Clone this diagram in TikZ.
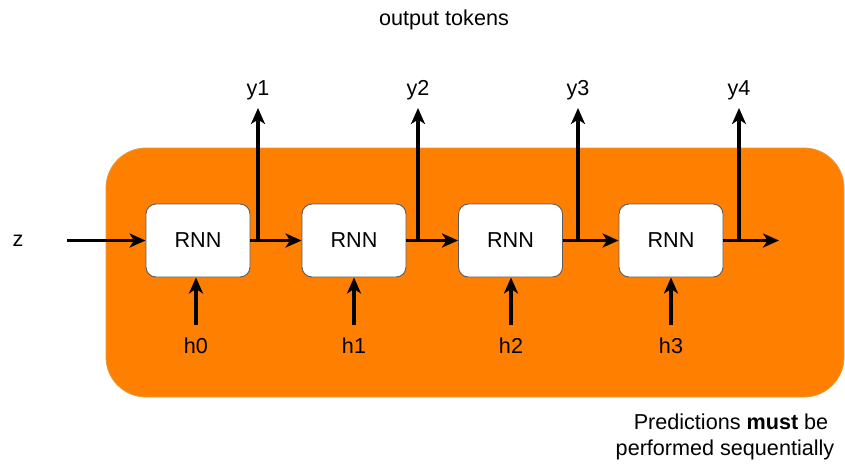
\documentclass[tikz,border=0pt]{standalone}
\usepackage{fontspec}
\setmainfont{Liberation Sans}
\usetikzlibrary{arrows.meta}
\definecolor{panel}{HTML}{FF8000}
\definecolor{panelrim}{HTML}{E59A3A}
\definecolor{boxrim}{HTML}{5A5A5A}
\begin{document}
\begin{tikzpicture}[x=1pt,y=-1pt,
  lbl/.style={font=\fontsize{21.6}{25}\selectfont, inner sep=0pt},
  rnncell/.style={draw=boxrim, line width=0.9pt, fill=white, rounded corners=10pt,
    minimum width=104pt, minimum height=73pt, inner sep=0pt,
    font=\fontsize{21.6}{25}\selectfont},
  flow/.style={line width=3.2pt, -{Stealth[length=16pt,width=14pt,inset=4.5pt]}}]
\useasboundingbox (0,0) rectangle (845,464);

% orange panel holding the unrolled RNN
\fill[panel, draw=panelrim, line width=0.8pt, rounded corners=40pt] (106,148) rectangle (844,397);

% RNN cells
\node[rnncell] (c1) at (198,240.5) {RNN};
\node[rnncell] (c2) at (354,240.5) {RNN};
\node[rnncell] (c3) at (510.5,240.5) {RNN};
\node[rnncell] (c4) at (671,240.5) {RNN};

% labels
\node[lbl] (title) at (444,20) {output tokens};
\node[lbl] (z) at (18,241) {z};
\node[lbl] (y1) at (258,90) {y1};
\node[lbl] (y2) at (418,90) {y2};
\node[lbl] (y3) at (578,90) {y3};
\node[lbl] (y4) at (739,90) {y4};
\node[lbl] (h0) at (196,346) {h0};
\node[lbl] (h1) at (354,346) {h1};
\node[lbl] (h2) at (511,346) {h2};
\node[lbl] (h3) at (671,346) {h3};
\node[lbl, align=center] (note) at (725,437)
  {\hspace*{12pt}Predictions \textbf{must} be\\[1pt]performed sequentially};

% branch points on the chain
\coordinate (zin) at (67,240.5);
\coordinate (b1) at (258,240.5);
\coordinate (b2) at (418,240.5);
\coordinate (b3) at (578,240.5);
\coordinate (b4) at (739,240.5);
\coordinate (out) at (779,240.5);
\coordinate (t1) at (258,108);
\coordinate (t2) at (418,108);
\coordinate (t3) at (578,108);
\coordinate (t4) at (739,108);

% horizontal chain
\draw[flow] (zin) -- (c1.west);
\draw[flow] (c1.east) -- (c2.west);
\draw[flow] (c2.east) -- (c3.west);
\draw[flow] (c3.east) -- (c4.west);
\draw[flow] (c4.east) -- (out);

% outputs
\draw[flow] (b1) -- (t1);
\draw[flow] (b2) -- (t2);
\draw[flow] (b3) -- (t3);
\draw[flow] (b4) -- (t4);

% hidden state inputs
\draw[flow] (h0.north |- 0,325) -- (h0.north |- c1.south);
\draw[flow] (h1.north |- 0,325) -- (h1.north |- c2.south);
\draw[flow] (h2.north |- 0,325) -- (h2.north |- c3.south);
\draw[flow] (h3.north |- 0,325) -- (h3.north |- c4.south);
\end{tikzpicture}
\end{document}
